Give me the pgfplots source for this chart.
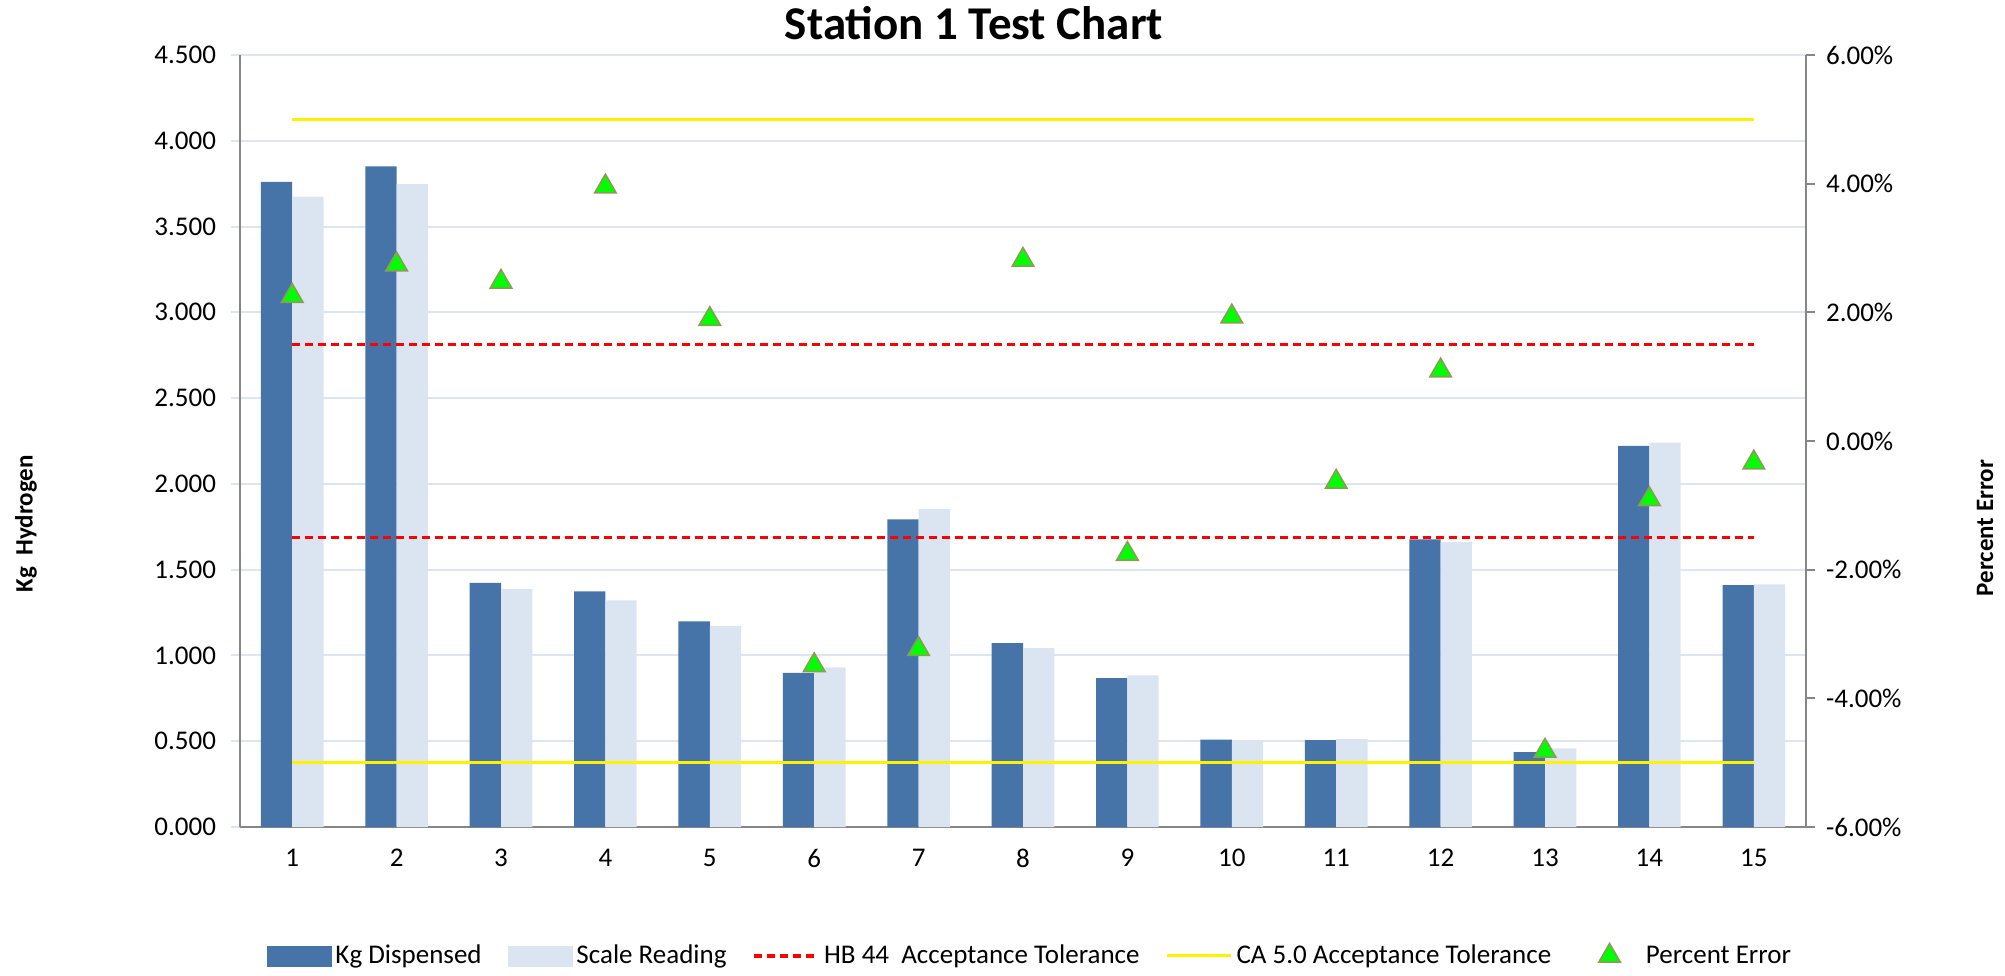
\documentclass[border=0pt]{standalone}
\usepackage{pgfplots}
\pgfplotsset{compat=1.18}
\usepackage{fontspec}
\setmainfont{Carlito}

\definecolor{barDark}{HTML}{4673A8}
\definecolor{barLight}{HTML}{DBE5F1}
\definecolor{gridBlue}{HTML}{DCE6F2}
\definecolor{axisGray}{HTML}{868686}
\definecolor{markEdge}{HTML}{8E9B57}
\definecolor{markFill}{HTML}{00FF00}

\newcommand\ticksize{\fontsize{13.5pt}{16pt}\selectfont}
\newcommand\labsize{\fontsize{12.5pt}{15pt}\selectfont}

\pgfplotsset{
  shared/.style={
    scale only axis,
    width=783pt, height=386pt,
    at={(0pt,0pt)}, anchor=south west,
    xmin=0.5, xmax=15.5,
    axis line style={axisGray, line width=1.2pt},
    tick label style={font=\ticksize},
    major tick length=4.5pt,
    tick align=outside,
  },
  % marker-only legend image, centred in a 32pt wide slot
  markerLegend/.style={
    legend image code/.code={%
      \path (0pt,0pt) (32pt,0pt);
      \draw[##1] plot coordinates {(16pt,1.5pt)};}
  },
}

\begin{document}
\begin{tikzpicture}
\useasboundingbox (-120pt,-74pt) rectangle (882.5pt,413.5pt);

% Primary axis: kilograms dispensed and scale readings
\begin{axis}[
  shared,
  ymin=0, ymax=4.5,
  axis x line*=bottom,
  axis y line*=left,
  xtick={1,...,15},
  xticklabels={1,2,3,4,5,6,7,8,9,10,11,12,13,14,15},
  major x tick style={draw=none},
  ytick={0,0.5,...,4.5},
  yticklabels={0.000,0.500,1.000,1.500,2.000,2.500,3.000,3.500,4.000,4.500},
  tick style={gridBlue, line width=1pt},
  ymajorgrids,
  grid style={gridBlue, line width=1pt},
  xticklabel style={yshift=-3pt},
  yticklabel style={xshift=-4pt},
]
\addplot[ybar, bar width=0.3, bar shift=-0.15, fill=barDark, draw=none]
  coordinates {(1,3.760) (2,3.851) (3,1.423) (4,1.374) (5,1.199) (6,0.899)
               (7,1.793) (8,1.072) (9,0.868) (10,0.510) (11,0.506) (12,1.677)
               (13,0.436) (14,2.222) (15,1.410)};
\addplot[ybar, bar width=0.3, bar shift=0.15, fill=barLight, draw=none]
  coordinates {(1,3.675) (2,3.747) (3,1.387) (4,1.321) (5,1.172) (6,0.930)
               (7,1.853) (8,1.043) (9,0.884) (10,0.500) (11,0.512) (12,1.660)
               (13,0.459) (14,2.241) (15,1.415)};
\end{axis}

% Secondary axis: tolerances and percent error
\begin{axis}[
  shared,
  ymin=-6, ymax=6,
  hide x axis,
  axis y line*=right,
  ytick={-6,-4,...,6},
  yticklabels={-6.00\%,-4.00\%,-2.00\%,0.00\%,2.00\%,4.00\%,6.00\%},
  tick style={axisGray, line width=1pt},
  yticklabel style={xshift=2pt},
  legend columns=5,
  legend style={
    at={(0.505,-0.167)}, anchor=center,
    draw=none, fill=none,
    font=\ticksize,
    /tikz/every even column/.append style={column sep=11pt},
  },
  legend image code/.code={%
    \draw[mark repeat=2, mark phase=2, #1]
      plot coordinates {(0pt,0pt) (16pt,0pt) (32pt,0pt)};},
]
\addlegendimage{legend image code/.code={\fill[barDark] (0pt,-5pt) rectangle (32pt,5pt);}}
\addlegendentry{Kg Dispensed}
\addlegendimage{legend image code/.code={\fill[barLight] (0pt,-5pt) rectangle (32pt,5pt);}}
\addlegendentry{Scale Reading}

\addplot[red, line width=1.8pt, dash pattern=on 4pt off 2.5pt]
  coordinates {(1,1.5) (15,1.5)};
\addlegendentry{HB 44\ \ Acceptance Tolerance}
\addplot[red, line width=1.8pt, dash pattern=on 4pt off 2.5pt, forget plot]
  coordinates {(1,-1.5) (15,-1.5)};

\addplot[yellow, line width=1.5pt]
  coordinates {(1,5) (15,5)};
\addlegendentry{CA 5.0 Acceptance Tolerance}
\addplot[yellow, line width=1.5pt, forget plot]
  coordinates {(1,-5) (15,-5)};

% triangle marks, centred on their bounding box
\addplot[only marks, mark=triangle*, mark size=6.2pt,
         mark options={fill=markFill, draw=markEdge, line width=0.8pt, yshift=-1.5pt},
         markerLegend]
  coordinates {(1,2.30) (2,2.79) (3,2.52) (4,4.00) (5,1.94) (6,-3.44)
               (7,-3.19) (8,2.86) (9,-1.71) (10,1.98) (11,-0.59) (12,1.14)
               (13,-4.77) (14,-0.86) (15,-0.29)};
\addlegendentry{Percent Error}
\end{axis}

\node[font=\bfseries\fontsize{23.5pt}{28pt}\selectfont] at (367pt,402pt) {Station 1 Test Chart};
\node[rotate=90, font=\bfseries\labsize] at (-107pt,151.5pt) {Kg\ \ Hydrogen};
\node[rotate=90, font=\bfseries\labsize] at (872.5pt,149.5pt) {Percent Error};
\end{tikzpicture}
\end{document}
